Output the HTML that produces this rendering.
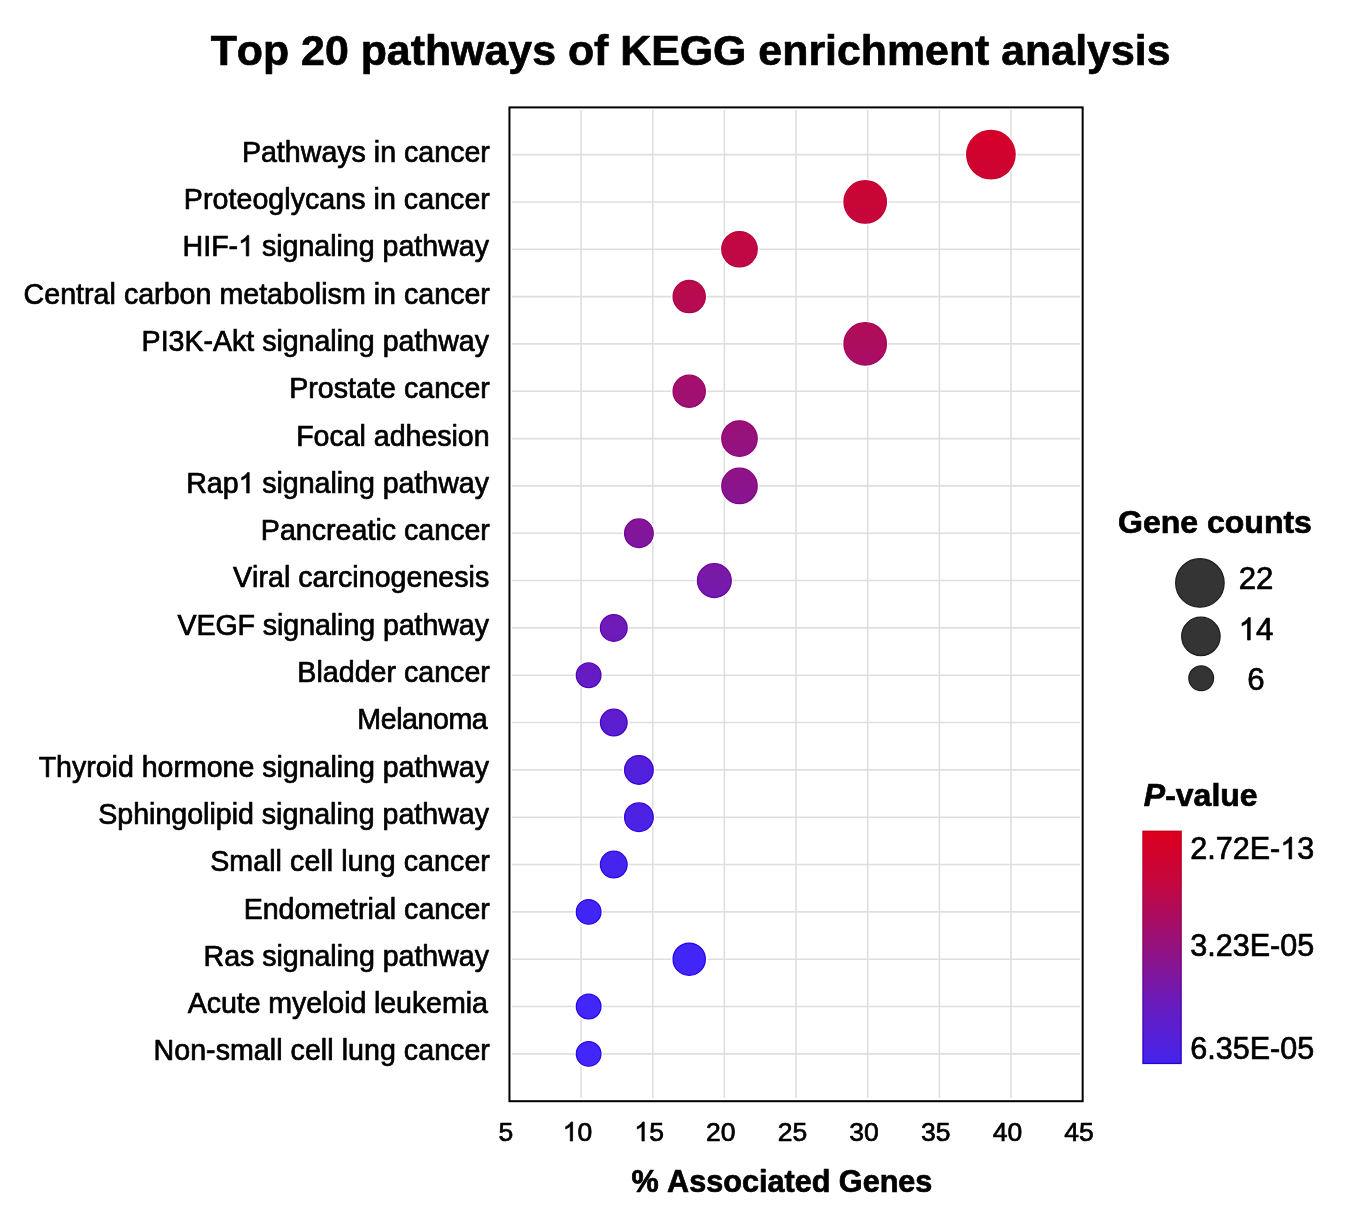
<!DOCTYPE html>
<html><head><meta charset="utf-8"><title>Top 20 pathways of KEGG enrichment analysis</title>
<style>html,body{margin:0;padding:0;background:#fff;}body{width:1358px;height:1229px;overflow:hidden;}svg{display:block;font-family:"Liberation Sans",sans-serif;}text{stroke:#000;stroke-width:0.7px;stroke-linejoin:round;font-kerning:none;}.o{fill:none;stroke:none;}</style></head><body>
<div style="will-change:transform;width:1358px;height:1229px">
<svg width="1358" height="1229" viewBox="0 0 1358 1229">
<defs><linearGradient id="pg" x1="0" y1="0" x2="0" y2="1"><stop offset="0" stop-color="#dd001d"/><stop offset="0.25" stop-color="#c00845"/><stop offset="0.5" stop-color="#941280"/><stop offset="0.75" stop-color="#681cbf"/><stop offset="1" stop-color="#4523ec"/></linearGradient></defs>
<rect width="1358" height="1229" fill="#fff"/>
<text x="690.55" y="64.75" text-anchor="middle" font-size="42.87" font-weight="bold" fill="#000">Top 20 pathways of KEGG enrichment analysis</text>
<path d="M581.10 110V1098 M652.75 110V1098 M724.40 110V1098 M796.05 110V1098 M867.70 110V1098 M939.35 110V1098 M1011.00 110V1098 M512 154.60H1080 M512 201.93H1080 M512 249.26H1080 M512 296.59H1080 M512 343.92H1080 M512 391.25H1080 M512 438.58H1080 M512 485.91H1080 M512 533.24H1080 M512 580.57H1080 M512 627.90H1080 M512 675.23H1080 M512 722.56H1080 M512 769.89H1080 M512 817.22H1080 M512 864.55H1080 M512 911.88H1080 M512 959.21H1080 M512 1006.54H1080 M512 1053.87H1080" stroke="#dfdfdf" stroke-width="1.6" fill="none"/>
<rect x="509.45" y="107.4" width="573.20" height="993.80" fill="none" stroke="#000" stroke-width="2"/>
<defs><linearGradient id="gf" gradientUnits="userSpaceOnUse" x1="0" y1="129.60" x2="0" y2="1053.87"><stop offset="0" stop-color="#d6002a"/><stop offset="0.0270" stop-color="#d0032d"/><stop offset="0.0783" stop-color="#c80638"/><stop offset="0.1295" stop-color="#c00944"/><stop offset="0.1807" stop-color="#b70b50"/><stop offset="0.2319" stop-color="#ad0d5f"/><stop offset="0.2831" stop-color="#a1106f"/><stop offset="0.3343" stop-color="#96127d"/><stop offset="0.3855" stop-color="#8b148c"/><stop offset="0.4367" stop-color="#82169b"/><stop offset="0.4879" stop-color="#771aa9"/><stop offset="0.5391" stop-color="#6e1bb8"/><stop offset="0.5903" stop-color="#651cc4"/><stop offset="0.6415" stop-color="#5b1ed0"/><stop offset="0.6928" stop-color="#5220dc"/><stop offset="0.7440" stop-color="#4d22e4"/><stop offset="0.7952" stop-color="#4624ee"/><stop offset="0.8464" stop-color="#4225f6"/><stop offset="0.8976" stop-color="#4226f8"/><stop offset="0.9488" stop-color="#4226fa"/><stop offset="1.0000" stop-color="#4226fa"/></linearGradient><linearGradient id="gs" gradientUnits="userSpaceOnUse" x1="0" y1="129.60" x2="0" y2="1053.87"><stop offset="0" stop-color="#cf0028"/><stop offset="0.0270" stop-color="#c90029"/><stop offset="0.0783" stop-color="#c20031"/><stop offset="0.1295" stop-color="#ba003c"/><stop offset="0.1807" stop-color="#b10047"/><stop offset="0.2319" stop-color="#a70056"/><stop offset="0.2831" stop-color="#9c0066"/><stop offset="0.3343" stop-color="#910075"/><stop offset="0.3855" stop-color="#860187"/><stop offset="0.4367" stop-color="#7a0196"/><stop offset="0.4879" stop-color="#6c04a3"/><stop offset="0.5391" stop-color="#5f03b2"/><stop offset="0.5903" stop-color="#5402be"/><stop offset="0.6415" stop-color="#4703c9"/><stop offset="0.6928" stop-color="#3b03d5"/><stop offset="0.7440" stop-color="#3404dd"/><stop offset="0.7952" stop-color="#2b05e6"/><stop offset="0.8464" stop-color="#2505ee"/><stop offset="0.8976" stop-color="#2506f0"/><stop offset="0.9488" stop-color="#2506f2"/><stop offset="1.0000" stop-color="#2506f2"/></linearGradient></defs>
<circle cx="990.89" cy="154.60" r="26.16" fill="#fff"/>
<circle cx="990.89" cy="154.60" r="24.21" fill="url(#gf)" stroke="url(#gs)" stroke-width="1.3"/>
<circle cx="865.19" cy="201.93" r="23.15" fill="#fff"/>
<circle cx="865.19" cy="201.93" r="21.20" fill="url(#gf)" stroke="url(#gs)" stroke-width="1.3"/>
<circle cx="739.48" cy="249.26" r="19.66" fill="#fff"/>
<circle cx="739.48" cy="249.26" r="17.71" fill="url(#gf)" stroke="url(#gs)" stroke-width="1.3"/>
<circle cx="689.20" cy="296.59" r="18.06" fill="#fff"/>
<circle cx="689.20" cy="296.59" r="16.11" fill="url(#gf)" stroke="url(#gs)" stroke-width="1.3"/>
<circle cx="865.19" cy="343.92" r="23.15" fill="#fff"/>
<circle cx="865.19" cy="343.92" r="21.20" fill="url(#gf)" stroke="url(#gs)" stroke-width="1.3"/>
<circle cx="689.20" cy="391.25" r="18.06" fill="#fff"/>
<circle cx="689.20" cy="391.25" r="16.11" fill="url(#gf)" stroke="url(#gs)" stroke-width="1.3"/>
<circle cx="739.48" cy="438.58" r="19.66" fill="#fff"/>
<circle cx="739.48" cy="438.58" r="17.71" fill="url(#gf)" stroke="url(#gs)" stroke-width="1.3"/>
<circle cx="739.48" cy="485.91" r="19.66" fill="#fff"/>
<circle cx="739.48" cy="485.91" r="17.71" fill="url(#gf)" stroke="url(#gs)" stroke-width="1.3"/>
<circle cx="638.92" cy="533.24" r="16.29" fill="#fff"/>
<circle cx="638.92" cy="533.24" r="14.34" fill="url(#gf)" stroke="url(#gs)" stroke-width="1.3"/>
<circle cx="714.34" cy="580.57" r="18.88" fill="#fff"/>
<circle cx="714.34" cy="580.57" r="16.93" fill="url(#gf)" stroke="url(#gs)" stroke-width="1.3"/>
<circle cx="613.78" cy="627.90" r="15.32" fill="#fff"/>
<circle cx="613.78" cy="627.90" r="13.37" fill="url(#gf)" stroke="url(#gs)" stroke-width="1.3"/>
<circle cx="588.64" cy="675.23" r="14.28" fill="#fff"/>
<circle cx="588.64" cy="675.23" r="12.33" fill="url(#gf)" stroke="url(#gs)" stroke-width="1.3"/>
<circle cx="613.78" cy="722.56" r="15.32" fill="#fff"/>
<circle cx="613.78" cy="722.56" r="13.37" fill="url(#gf)" stroke="url(#gs)" stroke-width="1.3"/>
<circle cx="638.92" cy="769.89" r="16.29" fill="#fff"/>
<circle cx="638.92" cy="769.89" r="14.34" fill="url(#gf)" stroke="url(#gs)" stroke-width="1.3"/>
<circle cx="638.92" cy="817.22" r="16.29" fill="#fff"/>
<circle cx="638.92" cy="817.22" r="14.34" fill="url(#gf)" stroke="url(#gs)" stroke-width="1.3"/>
<circle cx="613.78" cy="864.55" r="15.32" fill="#fff"/>
<circle cx="613.78" cy="864.55" r="13.37" fill="url(#gf)" stroke="url(#gs)" stroke-width="1.3"/>
<circle cx="588.64" cy="911.88" r="14.28" fill="#fff"/>
<circle cx="588.64" cy="911.88" r="12.33" fill="url(#gf)" stroke="url(#gs)" stroke-width="1.3"/>
<circle cx="689.20" cy="959.21" r="18.06" fill="#fff"/>
<circle cx="689.20" cy="959.21" r="16.11" fill="url(#gf)" stroke="url(#gs)" stroke-width="1.3"/>
<circle cx="588.64" cy="1006.54" r="14.28" fill="#fff"/>
<circle cx="588.64" cy="1006.54" r="12.33" fill="url(#gf)" stroke="url(#gs)" stroke-width="1.3"/>
<circle cx="588.64" cy="1053.87" r="14.28" fill="#fff"/>
<circle cx="588.64" cy="1053.87" r="12.33" fill="url(#gf)" stroke="url(#gs)" stroke-width="1.3"/>
<text x="241.88" y="161.70" font-size="28.6" textLength="248.01" lengthAdjust="spacing" fill="#000">Pathways in cancer</text>
<text x="183.84" y="209.00" font-size="28.6" textLength="306.05" lengthAdjust="spacing" fill="#000">Proteoglycans in cancer</text>
<text x="182.60" y="256.30" font-size="28.6" textLength="306.37" lengthAdjust="spacing" fill="#000">HIF-<tspan class="o">1</tspan> signaling pathway</text>
<text x="23.60" y="303.60" font-size="28.6" textLength="466.29" lengthAdjust="spacing" fill="#000">Central carbon metabolism in cancer</text>
<text x="141.61" y="350.90" font-size="28.6" textLength="347.35" lengthAdjust="spacing" fill="#000">PI3K-Akt signaling pathway</text>
<text x="289.15" y="398.20" font-size="28.6" textLength="200.74" lengthAdjust="spacing" fill="#000">Prostate cancer</text>
<text x="296.15" y="445.50" font-size="28.6" textLength="193.46" lengthAdjust="spacing" fill="#000">Focal adhesion</text>
<text x="186.21" y="492.80" font-size="28.6" textLength="302.75" lengthAdjust="spacing" fill="#000">Rap<tspan class="o">1</tspan> signaling pathway</text>
<text x="260.83" y="540.10" font-size="28.6" textLength="229.06" lengthAdjust="spacing" fill="#000">Pancreatic cancer</text>
<text x="233.03" y="587.40" font-size="28.6" textLength="256.18" lengthAdjust="spacing" fill="#000">Viral carcinogenesis</text>
<text x="177.41" y="634.70" font-size="28.6" textLength="311.56" lengthAdjust="spacing" fill="#000">VEGF signaling pathway</text>
<text x="297.35" y="682.00" font-size="28.6" textLength="192.53" lengthAdjust="spacing" fill="#000">Bladder cancer</text>
<text x="357.32" y="729.30" font-size="28.6" textLength="130.46" lengthAdjust="spacing" fill="#000">Melanoma</text>
<text x="38.68" y="776.60" font-size="28.6" textLength="450.29" lengthAdjust="spacing" fill="#000">Thyroid hormone signaling pathway</text>
<text x="98.22" y="823.90" font-size="28.6" textLength="390.74" lengthAdjust="spacing" fill="#000">Sphingolipid signaling pathway</text>
<text x="210.15" y="871.20" font-size="28.6" textLength="279.74" lengthAdjust="spacing" fill="#000">Small cell lung cancer</text>
<text x="243.63" y="918.50" font-size="28.6" textLength="246.26" lengthAdjust="spacing" fill="#000">Endometrial cancer</text>
<text x="203.52" y="965.80" font-size="28.6" textLength="285.45" lengthAdjust="spacing" fill="#000">Ras signaling pathway</text>
<text x="187.87" y="1013.10" font-size="28.6" textLength="299.92" lengthAdjust="spacing" fill="#000">Acute myeloid leukemia</text>
<text x="153.50" y="1060.40" font-size="28.6" textLength="336.39" lengthAdjust="spacing" fill="#000">Non-small cell lung cancer</text>
<text x="505.85" y="1140.9" text-anchor="middle" font-size="26.5" fill="#000">5</text>
<text x="577.50" y="1140.9" text-anchor="middle" font-size="26.5" fill="#000"><tspan class="o">1</tspan>0</text>
<text x="649.15" y="1140.9" text-anchor="middle" font-size="26.5" fill="#000"><tspan class="o">1</tspan>5</text>
<text x="720.80" y="1140.9" text-anchor="middle" font-size="26.5" fill="#000">20</text>
<text x="792.45" y="1140.9" text-anchor="middle" font-size="26.5" fill="#000">25</text>
<text x="864.10" y="1140.9" text-anchor="middle" font-size="26.5" fill="#000">30</text>
<text x="935.75" y="1140.9" text-anchor="middle" font-size="26.5" fill="#000">35</text>
<text x="1007.40" y="1140.9" text-anchor="middle" font-size="26.5" fill="#000">40</text>
<text x="1079.05" y="1140.9" text-anchor="middle" font-size="26.5" fill="#000">45</text>
<text x="781.9" y="1191.5" text-anchor="middle" font-size="30.6" font-weight="bold" fill="#000">% Associated Genes</text>
<text x="1215" y="532.6" text-anchor="middle" font-size="32" font-weight="bold" fill="#000">Gene counts</text>
<circle cx="1199.90" cy="582.90" r="24.26" fill="#343434" stroke="#1c1c1c" stroke-width="1.2"/>
<text x="1256" y="588.90" text-anchor="middle" font-size="31.2" fill="#000">22</text>
<circle cx="1200.90" cy="636.40" r="19.23" fill="#343434" stroke="#1c1c1c" stroke-width="1.2"/>
<text x="1256" y="639.60" text-anchor="middle" font-size="31.2" fill="#000"><tspan class="o">1</tspan>4</text>
<circle cx="1201.20" cy="678.30" r="12.38" fill="#343434" stroke="#1c1c1c" stroke-width="1.2"/>
<text x="1256" y="689.90" text-anchor="middle" font-size="31.2" fill="#000">6</text>
<text x="1143.8" y="805.8" font-size="32" font-weight="bold" fill="#000"><tspan font-style="italic">P</tspan>-value</text>
<defs><linearGradient id="pg2" x1="0" y1="0" x2="0" y2="1"><stop offset="0" stop-color="#c6001a"/><stop offset="0.25" stop-color="#ac0039"/><stop offset="0.5" stop-color="#850070"/><stop offset="0.75" stop-color="#5103ab"/><stop offset="1" stop-color="#2704d4"/></linearGradient></defs>
<rect x="1143.0" y="831.3" width="38.1" height="232.1" fill="url(#pg)" stroke="url(#pg2)" stroke-width="1.4"/>
<text x="1190.3" y="858.60" font-size="30.55" fill="#000">2.72E-<tspan class="o">1</tspan>3</text>
<text x="1190.3" y="955.60" font-size="30.55" fill="#000">3.23E-05</text>
<text x="1190.3" y="1058.60" font-size="30.55" fill="#000">6.35E-05</text>
<path transform="translate(238.12 256.00) scale(0.01396 -0.01396)" d="M763 0L583 0L583 1147Q518 1085 412 1023Q306 961 222 930L222 1104Q373 1175 486 1276Q599 1377 646 1472L763 1472Z" fill="#000" stroke="#000" stroke-width="0.7" vector-effect="non-scaling-stroke" stroke-linejoin="round"/>
<path transform="translate(238.54 493.00) scale(0.01396 -0.01396)" d="M763 0L583 0L583 1147Q518 1085 412 1023Q306 961 222 930L222 1104Q373 1175 486 1276Q599 1377 646 1472L763 1472Z" fill="#000" stroke="#000" stroke-width="0.7" vector-effect="non-scaling-stroke" stroke-linejoin="round"/>
<path transform="translate(562.75 1141.00) scale(0.01294 -0.01294)" d="M763 0L583 0L583 1147Q518 1085 412 1023Q306 961 222 930L222 1104Q373 1175 486 1276Q599 1377 646 1472L763 1472Z" fill="#000" stroke="#000" stroke-width="0.7" vector-effect="non-scaling-stroke" stroke-linejoin="round"/>
<path transform="translate(634.40 1141.00) scale(0.01294 -0.01294)" d="M763 0L583 0L583 1147Q518 1085 412 1023Q306 961 222 930L222 1104Q373 1175 486 1276Q599 1377 646 1472L763 1472Z" fill="#000" stroke="#000" stroke-width="0.7" vector-effect="non-scaling-stroke" stroke-linejoin="round"/>
<path transform="translate(1238.64 640.00) scale(0.01523 -0.01523)" d="M763 0L583 0L583 1147Q518 1085 412 1023Q306 961 222 930L222 1104Q373 1175 486 1276Q599 1377 646 1472L763 1472Z" fill="#000" stroke="#000" stroke-width="0.7" vector-effect="non-scaling-stroke" stroke-linejoin="round"/>
<path transform="translate(1280.30 859.00) scale(0.01492 -0.01492)" d="M763 0L583 0L583 1147Q518 1085 412 1023Q306 961 222 930L222 1104Q373 1175 486 1276Q599 1377 646 1472L763 1472Z" fill="#000" stroke="#000" stroke-width="0.7" vector-effect="non-scaling-stroke" stroke-linejoin="round"/>
</svg></div></body></html>
